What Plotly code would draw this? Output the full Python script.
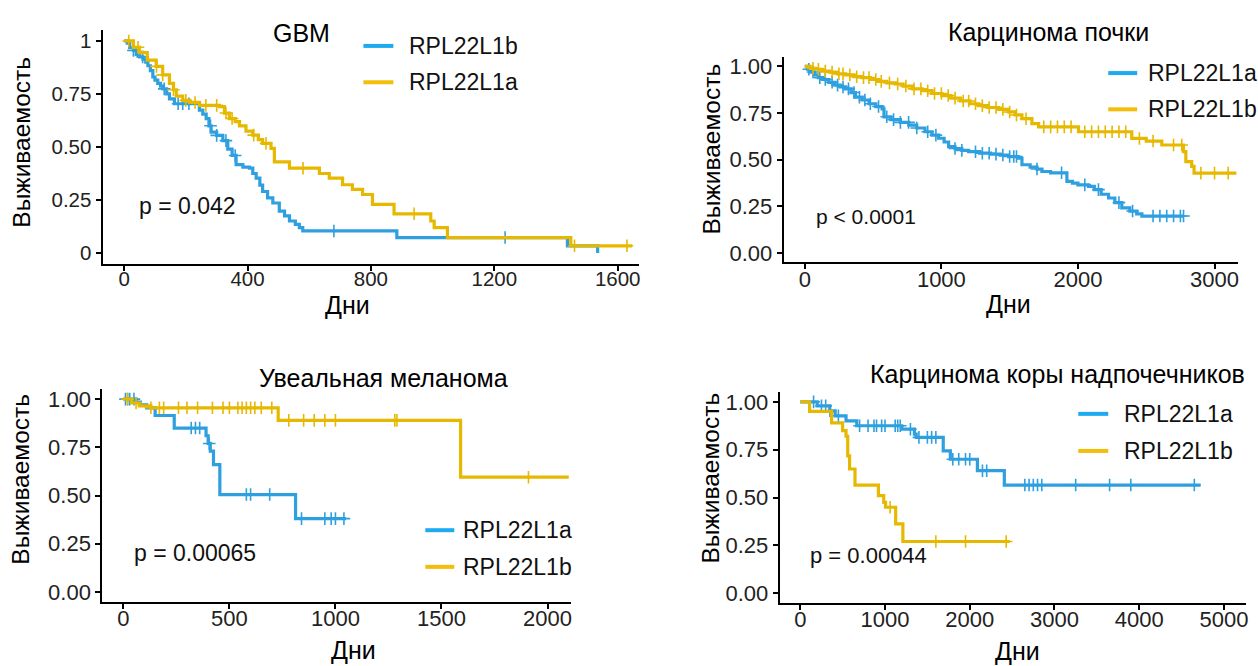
import bisect
import plotly.graph_objects as go

BLUE = "#2E9FDF"
YELLOW = "#E7B800"
LEG_BLUE = "#1EAAEF"
LEG_YELLOW = "#F2BE0A"
FONT = "Liberation Sans, Arial, sans-serif"

# ---------------- GBM ----------------
gbm_b_t = [0, 10, 18, 30, 39, 50, 61, 70, 77, 85, 93, 100, 109, 118, 126, 138, 147, 163, 244, 255, 266, 275, 282,
           300, 320, 336, 350, 363, 385, 406, 417, 428, 440, 449, 465, 482, 503, 520, 536, 555, 568, 579, 884, 1437, 1535]
gbm_b_s = [1.0, 0.99, 0.969, 0.955, 0.937, 0.925, 0.914, 0.90, 0.883, 0.86, 0.83, 0.815, 0.80, 0.787, 0.774, 0.75,
           0.727, 0.704, 0.674, 0.655, 0.634, 0.60, 0.57, 0.555, 0.53, 0.49, 0.46, 0.417, 0.405, 0.40, 0.375, 0.353,
           0.32, 0.29, 0.26, 0.236, 0.198, 0.175, 0.151, 0.135, 0.12, 0.104, 0.073, 0.034, 0.0]
gbm_b_cens = [30, 60, 130, 175, 190, 210, 280, 300, 330, 360, 680, 1235]

gbm_a_t = [0, 12, 30, 50, 75, 104, 125, 147, 160, 169, 190, 212, 244, 309, 325, 341, 360, 374, 395, 417, 435, 449,
           476, 487, 536, 633, 665, 708, 740, 773, 805, 875, 994, 1005, 1048, 1448, 1647]
gbm_a_s = [1.0, 1.0, 0.97, 0.945, 0.91, 0.88, 0.84, 0.80, 0.77, 0.74, 0.72, 0.71, 0.696, 0.69, 0.66, 0.634, 0.62,
           0.60, 0.575, 0.556, 0.535, 0.517, 0.493, 0.43, 0.40, 0.375, 0.353, 0.322, 0.30, 0.276, 0.229, 0.185,
           0.151, 0.12, 0.073, 0.034, 0.034]
gbm_a_cens = [15, 45, 105, 125, 160, 200, 230, 265, 300, 330, 350, 420, 460, 580, 940, 1460, 1630]

# ---------------- Kidney ----------------
kid_a_t = [0, 20, 45, 70, 100, 130, 176, 220, 260, 298, 340, 371, 420, 470, 520, 566, 580, 630, 700, 761, 820, 880,
           931, 980, 1020, 1053, 1100, 1150, 1200, 1280, 1360, 1430, 1492, 1565, 1590, 1650, 1700, 1736, 1800, 1919,
           1960, 2000, 2077, 2120, 2170, 2224, 2270, 2321, 2380, 2430, 2468, 2773]
kid_a_s = [1.0, 0.985, 0.97, 0.955, 0.94, 0.93, 0.915, 0.90, 0.89, 0.88, 0.86, 0.835, 0.82, 0.80, 0.785, 0.773, 0.73,
           0.715, 0.70, 0.685, 0.67, 0.65, 0.632, 0.615, 0.595, 0.57, 0.56, 0.55, 0.543, 0.535, 0.53, 0.525, 0.517,
           0.508, 0.473, 0.46, 0.45, 0.437, 0.43, 0.384, 0.375, 0.365, 0.357, 0.34, 0.315, 0.295, 0.27, 0.242, 0.225,
           0.21, 0.198, 0.198]
kid_a_cens = [30, 60, 110, 150, 200, 240, 280, 320, 360, 400, 440, 480, 540, 600, 650, 700, 760, 820, 900, 960, 1100,
              1150, 1250, 1300, 1350, 1400, 1450, 1500, 1530, 1550, 1700, 1880, 2050, 2150, 2300, 2400, 2550, 2600,
              2650, 2700, 2750, 2773]

kid_b_t = [0, 40, 80, 130, 180, 240, 300, 360, 419, 480, 540, 600, 663, 720, 790, 860, 930, 1004, 1070, 1140, 1210,
           1273, 1340, 1420, 1492, 1540, 1590, 1663, 1712, 2004, 2394, 2500, 2614, 2772, 2790, 2833, 2850, 3160]
kid_b_s = [1.0, 0.99, 0.985, 0.975, 0.97, 0.96, 0.955, 0.945, 0.94, 0.93, 0.92, 0.912, 0.906, 0.895, 0.88, 0.87,
           0.855, 0.844, 0.83, 0.815, 0.80, 0.79, 0.78, 0.77, 0.756, 0.74, 0.72, 0.694, 0.676, 0.65, 0.614, 0.60,
           0.579, 0.543, 0.49, 0.464, 0.428, 0.428]
kid_b_cens = [60, 100, 150, 200, 250, 280, 330, 380, 430, 470, 520, 560, 620, 680, 740, 800, 850, 900, 950, 1000,
              1050, 1100, 1160, 1200, 1250, 1300, 1350, 1400, 1450, 1500, 1550, 1620, 1750, 1800, 1850, 1900, 1950,
              2050, 2100, 2150, 2200, 2250, 2300, 2350, 2450, 2550, 2700, 2760, 2900, 3000, 3100]

# ---------------- Uveal melanoma ----------------
uvm_a_t = [0, 60, 80, 110, 150, 240, 390, 400, 410, 425, 455, 812, 1050]
uvm_a_s = [1.0, 0.985, 0.97, 0.955, 0.915, 0.85, 0.81, 0.77, 0.73, 0.66, 0.505, 0.38, 0.38]
uvm_a_cens = [10, 20, 30, 50, 320, 340, 360, 405, 580, 600, 690, 840, 950, 980, 1000, 1040]

uvm_b_t = [0, 40, 75, 130, 730, 1590, 2100]
uvm_b_s = [1.0, 0.98, 0.965, 0.955, 0.89, 0.595, 0.595]
uvm_b_cens = [20, 60, 130, 170, 190, 260, 300, 350, 420, 470, 500, 540, 560, 580, 600, 620, 650, 700, 780, 850, 900,
              950, 1000, 1280, 1290, 1910]

# ---------------- Adrenal cortex carcinoma ----------------
acc_a_t = [0, 200, 348, 412, 540, 667, 1198, 1347, 1368, 1687, 1771, 2090, 2408, 4724]
acc_a_s = [1.0, 0.979, 0.953, 0.927, 0.90, 0.875, 0.857, 0.831, 0.814, 0.744, 0.70, 0.64, 0.565, 0.565]
acc_a_cens = [157, 250, 300, 350, 450, 700, 800, 870, 900, 960, 1000, 1120, 1150, 1180, 1300, 1400, 1500, 1550, 1600,
              1800, 1870, 1950, 2000, 2150, 2200, 2650, 2700, 2750, 2800, 2850, 3250, 3650, 3900, 4650]

acc_b_t = [0, 110, 370, 500, 540, 560, 582, 646, 922, 985, 1007, 1126, 1211, 2472]
acc_b_s = [1.0, 0.95, 0.89, 0.849, 0.82, 0.718, 0.649, 0.565, 0.51, 0.475, 0.449, 0.362, 0.27, 0.27]
acc_b_cens = [1060, 1600, 1950, 2430]

W, H = 1258, 666


def px_x(p):
    return p / W


def px_y(p):
    return 1 - p / H


def surv_at(times, surv, t):
    i = bisect.bisect_right(times, t) - 1
    return surv[max(i, 0)]


fig = go.Figure()

panels = [
    ("", (102.7, 640), (27.6, 263), (-70, 1669), 400, 20.5,
     [(gbm_b_t, gbm_b_s, gbm_b_cens, BLUE), (gbm_a_t, gbm_a_s, gbm_a_cens, YELLOW)],
     ["1", "0.75", "0.50", "0.25", "0"]),
    ("2", (785, 1240), (54.6, 261.7), (-154, 3172), 1000, 22,
     [(kid_a_t, kid_a_s, kid_a_cens, BLUE), (kid_b_t, kid_b_s, kid_b_cens, YELLOW)],
     ["1.00", "0.75", "0.50", "0.25", "0.00"]),
    ("3", (102.5, 572), (390, 604), (-99, 2111), 500, 22,
     [(uvm_a_t, uvm_a_s, uvm_a_cens, BLUE), (uvm_b_t, uvm_b_s, uvm_b_cens, YELLOW)],
     ["1.00", "0.75", "0.50", "0.25", "0.00"]),
    ("4", (781, 1248), (392.8, 605.2), (-242, 5260), 1000, 22,
     [(acc_a_t, acc_a_s, acc_a_cens, BLUE), (acc_b_t, acc_b_s, acc_b_cens, YELLOW)],
     ["1.00", "0.75", "0.50", "0.25", "0.00"]),
]

layout = dict(
    width=W, height=H, margin=dict(l=0, r=0, t=0, b=0),
    paper_bgcolor="white", plot_bgcolor="white", showlegend=False,
    font=dict(family=FONT, color="black"),
)

for suf, xd, yd, xr, dtick, tsize, series, ylabels in panels:
    xa = "x" + suf
    ya = "y" + suf
    for t, s, cens, col in series:
        fig.add_trace(go.Scatter(x=t, y=s, mode="lines", line=dict(color=col, width=3.2, shape="hv"),
                                 xaxis=xa, yaxis=ya, hoverinfo="skip"))
        cy = [surv_at(t, s, c) for c in cens]
        fig.add_trace(go.Scatter(x=cens, y=cy, mode="markers",
                                 marker=dict(symbol="cross-thin-open", size=9, color=col,
                                             line=dict(color=col, width=1.6)),
                                 xaxis=xa, yaxis=ya, hoverinfo="skip"))
    axis_common = dict(showline=True, linecolor="black", linewidth=2, ticks="outside", ticklen=5,
                       tickwidth=1.5, tickcolor="black", showgrid=False, zeroline=False,
                       tickfont=dict(family=FONT, size=tsize, color="#222"))
    layout["xaxis" + suf] = dict(domain=[px_x(xd[0]), px_x(xd[1])], range=list(xr), anchor=ya,
                                 tickmode="linear", tick0=0, dtick=dtick, ticklabelstandoff=-9, **axis_common)
    layout["yaxis" + suf] = dict(domain=[px_y(yd[1]), px_y(yd[0])], range=[-0.05, 1.05], anchor=xa,
                                 tickmode="array", tickvals=[1, 0.75, 0.5, 0.25, 0], ticktext=ylabels,
                                 **axis_common)

fig.update_layout(**layout)

ann = []
shapes = []


def text(x, y, s, size, xanchor="center", angle=0, color="black"):
    ann.append(dict(x=px_x(x), y=px_y(y), xref="paper", yref="paper", text=s, showarrow=False,
                    xanchor=xanchor, yanchor="middle", textangle=angle,
                    font=dict(family=FONT, size=size, color=color)))


# titles
text(302, 30, "GBM", 25)
text(1050, 29, "Карцинома почки", 25)
text(384, 378, "Увеальная меланома", 25)
text(1059, 374, "Карцинома коры надпочечников", 25)

# axis titles
text(22, 140, "Выживаемость", 24.5, angle=-90)
text(713, 147, "Выживаемость", 24.5, angle=-90)
text(21, 480, "Выживаемость", 24.5, angle=-90)
text(712, 479, "Выживаемость", 24.5, angle=-90)
text(348, 305, "Дни", 25)
text(1010, 304, "Дни", 25)
text(354, 653, "Дни", 25)
text(1019, 654, "Дни", 25)

# p-values
text(137, 205, "p = 0.042", 23, xanchor="left", color="#111")
text(815, 215, "p < 0.0001", 21, xanchor="left", color="#111")
text(132, 555, "p = 0.00065", 23, xanchor="left", color="#111")
text(809, 558, "p = 0.00044", 22, xanchor="left", color="#111")

# legends
legends = [
    (364, 394, 408, [(43.3, LEG_BLUE, "RPL22L1b"), (80, LEG_YELLOW, "RPL22L1a")]),
    (1110, 1139, 1148, [(70.7, LEG_BLUE, "RPL22L1a"), (107.3, LEG_YELLOW, "RPL22L1b")]),
    (426, 455, 462, [(532, LEG_BLUE, "RPL22L1a"), (569, LEG_YELLOW, "RPL22L1b")]),
    (1080, 1110, 1124, [(414.6, LEG_BLUE, "RPL22L1a"), (452, LEG_YELLOW, "RPL22L1b")]),
]
for x0, x1, xt, items in legends:
    for y, col, lab in items:
        shapes.append(dict(type="line", xref="paper", yref="paper", x0=px_x(x0), x1=px_x(x1),
                           y0=px_y(y), y1=px_y(y), line=dict(color=col, width=4)))
        text(xt, y, lab, 23, xanchor="left", color="#111")

fig.update_layout(annotations=ann, shapes=shapes)
fig.write_html("out.html", config={"displayModeBar": False},
               post_script="document.body.style.margin='0';document.body.style.overflow='hidden';")
